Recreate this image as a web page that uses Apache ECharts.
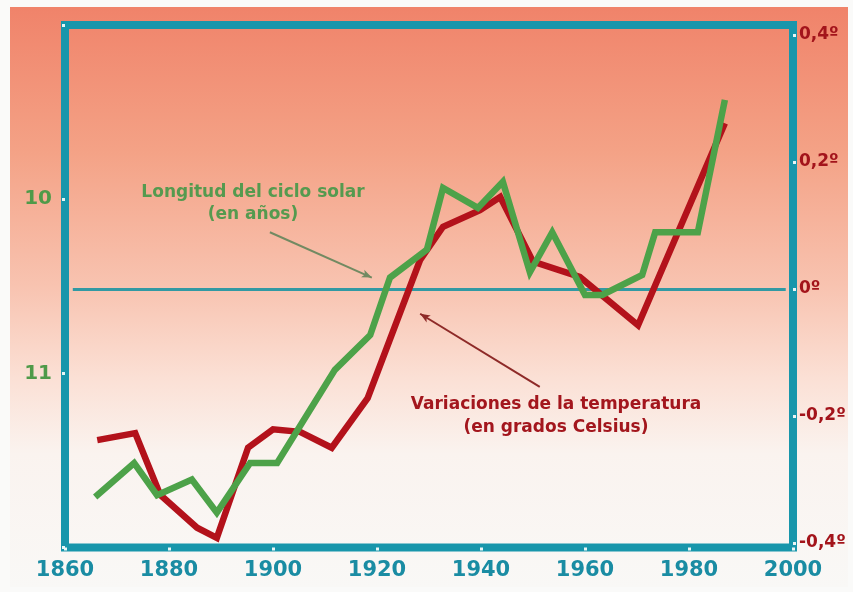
<!DOCTYPE html>
<html>
<head>
<meta charset="utf-8">
<script src="https://cdn.jsdelivr.net/npm/echarts@6/dist/echarts.min.js"></script>
<style>html,body{margin:0;padding:0;background:#fafaf9;}#c{width:853px;height:592px;}</style>
</head>
<body>
<div id="c"></div>
<script>
// Temperature variation (ºC, right axis)
var tempYears  = [1866.2, 1873.5, 1878.3, 1885.4, 1889.2, 1895.2, 1900.0, 1905.2, 1911.3, 1918.2, 1928.3, 1932.7, 1939.8, 1943.7, 1950.0, 1959.0, 1970.2, 1986.9];
var tempValues = [-0.238, -0.227, -0.324, -0.376, -0.392, -0.250, -0.221, -0.225, -0.250, -0.172, 0.046, 0.098, 0.124, 0.145, 0.043, 0.019, -0.057, 0.261];
// Solar cycle length (years, left axis, inverted)
var solarYears  = [1865.8, 1873.3, 1877.7, 1884.4, 1889.2, 1895.6, 1900.8, 1911.9, 1918.7, 1922.5, 1929.6, 1932.7, 1939.4, 1944.2, 1949.4, 1953.7, 1960.0, 1963.3, 1971.0, 1973.5, 1981.7, 1986.9];
var solarValues = [11.71, 11.515, 11.70, 11.61, 11.80, 11.515, 11.515, 10.98, 10.78, 10.45, 10.29, 9.936, 10.05, 9.90, 10.42, 10.19, 10.55, 10.55, 10.435, 10.19, 10.19, 9.43];
// Tick labels
var xTickLabels = {1860:'1860',1880:'1880',1900:'1900',1920:'1920',1940:'1940',1960:'1960',1980:'1980',2000:'2000'};
var leftTickLabels = {10:'10', 11:'11'};
var rightTickLabels = {'0.4':'0,4º','0.2':'0,2º','0':'0º','-0.2':'-0,2º','-0.4':'-0,4º'};
var solarLabel = ['Longitud del ciclo solar', '(en años)'];
var tempLabel = ['Variaciones de la temperatura', '(en grados Celsius)'];

var tempData = tempYears.map(function(y,i){return [y, tempValues[i]];});
var solarData = solarYears.map(function(y,i){return [y, solarValues[i]];});

var FONT = '"DejaVu Sans", sans-serif';
var TEAL = '#1896ab';
var chart = echarts.init(document.getElementById('c'), null, {renderer:'canvas'});
chart.setOption({
  animation: false,
  backgroundColor: '#fafaf9',
  graphic: [
    {type:'rect', z:-10, silent:true, shape:{x:10, y:7, width:838, height:580},
     style:{fill: new echarts.graphic.LinearGradient(0,0,0,1,[
       {offset:0, color:'#f0836a'},
       {offset:0.25, color:'#f4a286'},
       {offset:0.48, color:'#f8c3b0'},
       {offset:0.64, color:'#fbe0d5'},
       {offset:0.77, color:'#faf3ef'},
       {offset:1, color:'#f9f8f6'}
     ])}},
    {type:'text', z:10, x:253, y:193, style:{text:solarLabel[0], fill:'#559a4f', font:'bold 17px '+FONT, textAlign:'center', textVerticalAlign:'middle'}},
    {type:'text', z:10, x:253, y:215, style:{text:solarLabel[1], fill:'#559a4f', font:'bold 17px '+FONT, textAlign:'center', textVerticalAlign:'middle'}},
    {type:'text', z:10, x:556, y:405, style:{text:tempLabel[0], fill:'#a3161d', font:'bold 17px '+FONT, textAlign:'center', textVerticalAlign:'middle'}},
    {type:'text', z:10, x:556, y:428, style:{text:tempLabel[1], fill:'#a3161d', font:'bold 17px '+FONT, textAlign:'center', textVerticalAlign:'middle'}}
  ],
  grid: [
    {left:65, right:60, top:25, bottom:44.5, show:true, borderColor:TEAL, borderWidth:8, backgroundColor:'transparent'},
    {left:65, right:60, top:35, bottom:49, show:false}
  ],
  xAxis: [
    {type:'value', gridIndex:0, min:1860, max:2000, interval:20,
     axisLine:{show:false}, splitLine:{show:false},
     axisTick:{show:true, length:3, lineStyle:{color:'#eaf6f6', width:3}},
     axisLabel:{margin:13, color:'#1a8ca3', fontFamily:FONT, fontWeight:'bold', fontSize:21,
       formatter:function(v){return xTickLabels[v] || '';}}},
    {type:'value', gridIndex:1, min:1860, max:2000, interval:20, show:false}
  ],
  yAxis: [
    {type:'value', gridIndex:0, position:'left', min:9, max:12, interval:1, inverse:true,
     axisLine:{show:false}, splitLine:{show:false},
     axisTick:{show:true, length:3, lineStyle:{color:'#eaf6f6', width:3}},
     axisLabel:{margin:13, color:'#4f9a49', fontFamily:FONT, fontWeight:'bold', fontSize:20,
       formatter:function(v){return leftTickLabels[v] || '';}}},
    {type:'value', gridIndex:1, position:'right', min:-0.4, max:0.4, interval:0.2,
     axisLine:{show:false}, splitLine:{show:false},
     axisTick:{show:true, length:3, lineStyle:{color:'#eaf6f6', width:3}},
     axisLabel:{margin:6, color:'#a3141b', fontFamily:FONT, fontWeight:'bold', fontSize:17,
       formatter:function(v){var k = String(Math.round(v*10)/10); return rightTickLabels[k] || '';}}}
  ],
  series: [
    {name:'Variaciones de la temperatura', type:'line', xAxisIndex:1, yAxisIndex:1, data:tempData,
     showSymbol:false, symbol:'none', z:3,
     lineStyle:{color:'#b3121b', width:6.5, join:'miter'},
     markLine:{silent:true, symbol:'none', animation:false, z:2,
       label:{show:false},
       data:[
         [{coord:[1861.5, 0], lineStyle:{color:'#3299a3', width:3, type:'solid'}},
          {coord:[1998.6, 0]}],
         [{coord:[1951.3, -0.154], symbol:'none', lineStyle:{color:'#8e2a28', width:2, type:'solid'}},
          {coord:[1928.3, -0.039], symbol:'arrow', symbolSize:[6,10]}]
       ]}},
    {name:'Longitud del ciclo solar', type:'line', xAxisIndex:0, yAxisIndex:0, data:solarData,
     showSymbol:false, symbol:'none', z:4,
     lineStyle:{color:'#4da249', width:6.5, join:'miter'},
     markLine:{silent:true, symbol:'none', animation:false,
       label:{show:false},
       data:[
         [{coord:[1899.4, 10.19], symbol:'none', lineStyle:{color:'#728a62', width:2, type:'solid'}},
          {coord:[1919.0, 10.45], symbol:'arrow', symbolSize:[6,10]}]
       ]}}
  ]
});
</script>
</body>
</html>
